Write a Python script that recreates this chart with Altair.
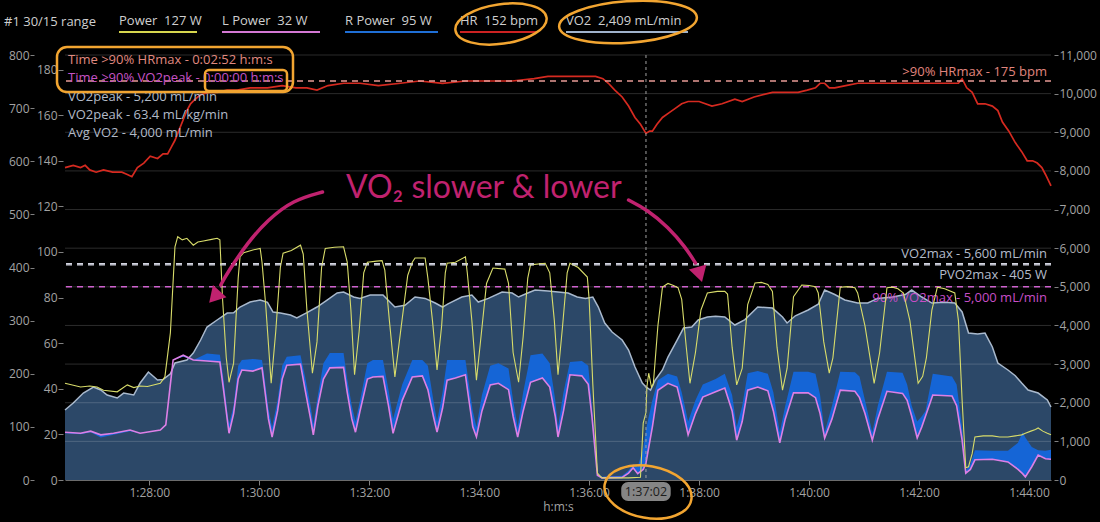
import altair as alt
import pandas as pd

FONT = "Open Sans"
T0, T1 = 5188, 6264          # ride time shown, seconds (1:26:28 - 1:44:24)
CURSOR_T = 5822               # 1:37:02

# ---------------- series ----------------
HR_T = [5188, 5197, 5205, 5210, 5215, 5222, 5230, 5240, 5250, 5256,
        5261, 5267, 5274, 5281, 5289, 5295, 5300, 5304, 5308, 5312,
        5317, 5321, 5325, 5330, 5336, 5345, 5354, 5365, 5376, 5390,
        5409, 5425, 5440, 5452, 5463, 5475, 5492, 5510, 5530, 5554,
        5575, 5600, 5625, 5650, 5676, 5700, 5715, 5740, 5767, 5775,
        5781, 5788, 5796, 5803, 5810, 5816, 5822, 5826, 5829, 5834,
        5840, 5847, 5854, 5861, 5868, 5880, 5894, 5905, 5919, 5927,
        5940, 5960, 5975, 5988, 5998, 6007, 6012, 6017, 6022, 6028,
        6040, 6053, 6080, 6110, 6140, 6163, 6167, 6172, 6178, 6184,
        6192, 6200, 6206, 6211, 6218, 6225, 6232, 6238, 6244, 6249,
        6254, 6258, 6264]
HR_BPM = [137, 138, 137, 138, 136, 135, 136, 135, 135, 134,
          133, 137, 139, 142, 141, 143, 143, 146, 149, 153,
          158, 162, 165, 167, 169, 170, 170, 171, 171, 172,
          172, 173, 172, 172, 171, 173, 174, 174, 173, 174,
          175, 174, 175, 175, 175, 176, 177, 177, 177, 176,
          174, 171, 168, 164, 159, 156, 152, 153, 153, 156,
          159, 161, 163, 165, 166, 166, 164, 165, 167, 166,
          168, 170, 170, 170, 171, 172, 174, 174, 172, 172,
          173, 174, 174, 174, 174, 174, 176, 172, 170, 165,
          165, 164, 162, 157, 153, 148, 144, 140, 140, 139,
          137, 134, 129]

PW_T = [5188, 5205, 5215, 5223, 5230, 5245, 5256, 5263, 5270, 5278,
        5292, 5297, 5303, 5308, 5311, 5316, 5321, 5328, 5333, 5339,
        5348, 5354, 5357, 5360, 5364, 5367, 5372, 5377, 5379, 5383,
        5393, 5401, 5403, 5407, 5413, 5418, 5423, 5426, 5435, 5445,
        5448, 5452, 5458, 5463, 5468, 5472, 5482, 5492, 5496, 5500,
        5504, 5509, 5514, 5518, 5528, 5534, 5537, 5542, 5548, 5555,
        5562, 5567, 5570, 5581, 5584, 5589, 5594, 5599, 5603, 5605,
        5614, 5625, 5627, 5632, 5637, 5642, 5648, 5655, 5668, 5672,
        5677, 5683, 5688, 5693, 5696, 5712, 5717, 5722, 5726, 5731,
        5736, 5739, 5748, 5758, 5760, 5764, 5769, 5774, 5803, 5816,
        5819, 5822, 5823, 5825, 5828, 5830, 5835, 5840, 5846, 5852,
        5857, 5861, 5866, 5870, 5876, 5882, 5889, 5900, 5908, 5911,
        5916, 5921, 5927, 5933, 5941, 5948, 5955, 5960, 5965, 5971,
        5976, 5983, 5992, 6000, 6007, 6010, 6016, 6022, 6026, 6034,
        6042, 6050, 6053, 6061, 6071, 6077, 6085, 6091, 6097, 6103,
        6110, 6119, 6124, 6128, 6134, 6140, 6148, 6159, 6163, 6167,
        6171, 6174, 6178, 6181, 6190, 6200, 6208, 6217, 6225, 6232,
        6236, 6242, 6247, 6250, 6255, 6260, 6264]
PW_W = [182, 175, 177, 175, 169, 166, 179, 174, 177, 176,
        182, 194, 277, 439, 458, 452, 455, 442, 448, 450,
        453, 455, 452, 339, 230, 184, 220, 380, 420, 428,
        433, 436, 410, 330, 182, 280, 400, 427, 432, 442,
        425, 320, 201, 260, 400, 436, 438, 439, 410, 320,
        198, 280, 390, 410, 412, 413, 395, 300, 194, 290,
        385, 410, 418, 418, 380, 300, 207, 290, 390, 408,
        410, 420, 390, 300, 188, 270, 370, 399, 397, 370,
        240, 184, 270, 380, 405, 408, 390, 300, 198, 290,
        390, 408, 400, 382, 340, 180, 13, 4, 4, 5,
        107, 127, 175, 201, 175, 180, 290, 363, 370, 366,
        362, 340, 250, 182, 240, 320, 352, 355, 355, 350,
        250, 179, 210, 330, 371, 372, 368, 355, 250, 169,
        210, 345, 367, 366, 364, 352, 260, 201, 230, 363,
        364, 362, 352, 290, 182, 240, 362, 363, 360, 352,
        300, 182, 195, 230, 320, 363, 360, 352, 300, 150,
        23, 25, 50, 81, 83, 83, 81, 81, 83, 85,
        88, 92, 95, 98, 92, 88, 85]

VO2_T = [5188, 5197, 5208, 5219, 5227, 5234, 5245, 5252, 5263, 5270,
         5279, 5289, 5295, 5303, 5308, 5321, 5328, 5336, 5343, 5354,
         5365, 5372, 5379, 5390, 5401, 5409, 5415, 5423, 5434, 5441,
         5452, 5463, 5474, 5485, 5492, 5503, 5510, 5521, 5535, 5548,
         5559, 5570, 5581, 5592, 5600, 5606, 5621, 5632, 5639, 5650,
         5665, 5676, 5683, 5693, 5701, 5715, 5737, 5747, 5756, 5764,
         5770, 5777, 5785, 5796, 5803, 5810, 5818, 5822, 5827, 5832,
         5840, 5846, 5856, 5863, 5872, 5879, 5889, 5898, 5908, 5919,
         5930, 5944, 5960, 5971, 5976, 5985, 5999, 6010, 6017, 6028,
         6039, 6053, 6064, 6075, 6091, 6105, 6112, 6123, 6134, 6148,
         6159, 6167, 6174, 6184, 6192, 6200, 6206, 6217, 6225, 6232,
         6239, 6250, 6260, 6264]
VO2_ML = [1812, 1993, 2251, 2407, 2330, 2200, 2122, 2250, 2200, 2510,
          2795, 2588, 2600, 2750, 3028, 3106, 3287, 3623, 3959, 4141,
          4322, 4330, 4477, 4607, 4658, 4600, 4348, 4320, 4270, 4193,
          4330, 4477, 4658, 4840, 4865, 4736, 4700, 4788, 4788, 4477,
          4520, 4736, 4700, 4580, 4477, 4560, 4736, 4788, 4607, 4700,
          4865, 4840, 4736, 4840, 4917, 4890, 4840, 4736, 4700, 4736,
          4477, 4063, 3830, 3623, 3364, 2924, 2510, 2409, 2329, 2588,
          2847, 3183, 3623, 3933, 3960, 4141, 4218, 4240, 4218, 4011,
          4150, 4477, 4450, 4218, 4063, 4250, 4400, 4550, 4917, 4800,
          4658, 4580, 4580, 4700, 4736, 4800, 4917, 4736, 4580, 4600,
          4580, 4350, 3804, 3780, 3804, 3442, 3028, 2847, 2700, 2510,
          2329, 2251, 2070, 1889]

LR_T = [5188, 5205, 5216, 5227, 5241, 5259, 5270, 5292, 5298, 5302,
        5306, 5317, 5328, 5343, 5357, 5361, 5365, 5367, 5372, 5377,
        5381, 5393, 5403, 5406, 5410, 5414, 5420, 5425, 5430, 5445,
        5450, 5456, 5459, 5464, 5470, 5477, 5492, 5496, 5501, 5505,
        5510, 5518, 5524, 5535, 5541, 5546, 5556, 5567, 5578, 5584,
        5590, 5594, 5600, 5605, 5614, 5625, 5628, 5633, 5637, 5643,
        5652, 5661, 5672, 5677, 5682, 5688, 5696, 5709, 5717, 5723,
        5726, 5732, 5739, 5752, 5759, 5763, 5769, 5774, 5796, 5803,
        5808, 5813, 5819, 5822, 5829, 5835, 5846, 5856, 5861, 5868,
        5876, 5884, 5898, 5908, 5916, 5921, 5927, 5933, 5944, 5955,
        5961, 5968, 5974, 5983, 5999, 6007, 6012, 6017, 6025, 6034,
        6050, 6055, 6061, 6069, 6075, 6085, 6102, 6107, 6112, 6118,
        6123, 6127, 6135, 6156, 6161, 6167, 6171, 6176, 6181, 6200,
        6217, 6228, 6233, 6236, 6243, 6250, 6258, 6264]
L_W = [90, 88, 92, 85, 88, 94, 88, 94, 104, 165,
       226, 235, 226, 224, 222, 170, 115, 88, 125, 190,
       207, 205, 211, 170, 115, 81, 130, 190, 216, 218,
       170, 115, 85, 140, 190, 211, 212, 165, 115, 90,
       130, 190, 194, 195, 140, 88, 150, 194, 196, 170,
       120, 90, 135, 188, 192, 198, 160, 100, 81, 130,
       179, 182, 170, 120, 81, 130, 184, 192, 175, 120,
       81, 130, 198, 196, 180, 120, 9, 4, 5, 13,
       23, 12, 20, 32, 100, 169, 182, 175, 140, 85,
       125, 156, 166, 173, 130, 75, 110, 169, 175, 168,
       130, 70, 115, 164, 164, 155, 125, 79, 115, 169,
       167, 155, 125, 75, 115, 167, 163, 150, 120, 79,
       100, 120, 160, 158, 140, 75, 13, 20, 38, 39,
       34, 20, 12, 6, 25, 47, 40, 39]
R_W = [88, 86, 90, 80, 85, 92, 88, 94, 104, 165,
       226, 232, 226, 238, 236, 190, 130, 105, 140, 215,
       226, 228, 226, 190, 135, 100, 150, 215, 232, 235,
       195, 140, 105, 160, 220, 239, 239, 190, 140, 110,
       150, 220, 226, 226, 170, 115, 180, 226, 226, 215,
       150, 110, 165, 226, 226, 226, 190, 130, 100, 160,
       215, 220, 210, 150, 100, 165, 235, 238, 220, 150,
       100, 165, 222, 224, 215, 140, 12, 6, 8, 18,
       30, 25, 60, 95, 150, 188, 200, 195, 165, 110,
       150, 180, 190, 200, 160, 100, 140, 201, 205, 200,
       165, 90, 140, 204, 204, 200, 160, 90, 140, 204,
       203, 195, 150, 90, 140, 204, 202, 180, 140, 110,
       120, 130, 200, 195, 180, 100, 18, 30, 56, 55,
       55, 70, 90, 80, 62, 56, 55, 57]

# reference levels
HR_MAX90 = 175
VO2_MAX = 5600
VO2_MAX90 = 5000
PVO2_MAX = 405

# readouts at the cursor (non-breaking spaces keep the double gap)
NB = "\u00a0"
LEGEND_LABELS = [f"Power{NB}{NB}127 W", f"L Power{NB}{NB}32 W", f"R Power{NB}{NB}95 W",
                 f"HR{NB}{NB}152 bpm", f"VO2{NB}{NB}2,409 mL/min"]
LEGEND_COLORS = ["#d6d64e", "#d478d4", "#1f6fd6", "#cc2222", "#9fb2cb"]

SUMMARY_LINES = ["Time >90% HRmax - 0:02:52 h:m:s",
                 "Time \u226590% VO2peak - 0:00:00 h:m:s",
                 "VO2peak - 5,200 mL/min",
                 "VO2peak - 63.4 mL/kg/min",
                 "Avg VO2 - 4,000 mL/min"]
SUMMARY_COLORS = ["#e08a80", "#c653c6", "#b2bac8", "#b2bac8", "#b2bac8"]

X_TICKS = list(range(5280, 6241, 120))
VO2_TICKS = list(range(0, 11001, 1000))
PW_TICKS = list(range(0, 801, 100))
HR_TICKS = list(range(0, 181, 20))

# hand-drawn note, placed in (time, mL/min) units
NOTE_TEXT = "VO\u2082 slower & lower"
ARROW_L_T = [5469, 5437, 5409, 5387, 5365, 5358]
ARROW_L_V = [7453, 7246, 6729, 6134, 5357, 5047]
ARROW_R_T = [5803, 5824, 5846, 5865, 5876]
ARROW_R_V = [7246, 6988, 6548, 6030, 5616]

# ---------------- styling ----------------
BG = "#000000"
AX = "#a3a3a3"
ORANGE = "#f2a531"
NOTE = "#c0226f"
PAD_L, PAD_T = 65, 55

hr_df = pd.DataFrame({"t": HR_T, "hr": HR_BPM})
pw_df = pd.DataFrame({"t": PW_T, "w": PW_W})
vo2_df = pd.DataFrame({"t": VO2_T, "vo2": VO2_ML})
lr_df = pd.DataFrame({"t": LR_T, "l": L_W, "r": R_W})
one = pd.DataFrame({"k": [0]})

xscale = alt.Scale(domain=[T0, T1], nice=False, zero=False)
vo2_scale = alt.Scale(domain=[0, 11000], nice=False)
pw_scale = alt.Scale(domain=[0, 800], nice=False)
hr_scale = alt.Scale(domain=[0, 186.4], nice=False)

hms = ("floor(datum.value/3600) + ':' + format(floor(datum.value/60) % 60, '02d')"
       " + ':' + format(datum.value % 60, '02d')")
# every layer carries the same time axis so the shared axis merges cleanly
x_axis = alt.Axis(values=X_TICKS, labelExpr=hms, title="h:m:s", grid=False,
                  labelColor=AX, labelFont=FONT, labelFontSize=12, labelPadding=2,
                  tickColor="#808080", tickSize=5, domainColor="#6c6c6c",
                  titleColor=AX, titleFont=FONT, titleFontSize=12,
                  titleFontWeight="normal", titlePadding=3)


def y_axis(orient, values, offset, tick, thousands=False):
    kw = dict(orient=orient, values=values, grid=False, domain=False, tickSize=tick,
              offset=offset, labelPadding=1, tickColor="#808080", labelColor=AX,
              labelFont=FONT, labelFontSize=12, title=None)
    if thousands:
        kw["labelExpr"] = "format(datum.value, ',')"
    return alt.Axis(**kw)


def X(field="t"):
    return alt.X(f"{field}:Q", scale=xscale, axis=x_axis)


def ellipse_path(r):
    k = 0.5523
    return (f"M -1 0 C -1 {-k*r:.3f} {-k:.3f} {-r:.3f} 0 {-r:.3f} "
            f"C {k:.3f} {-r:.3f} 1 {-k*r:.3f} 1 0 "
            f"C 1 {k*r:.3f} {k:.3f} {r:.3f} 0 {r:.3f} "
            f"C {-k:.3f} {r:.3f} -1 {k*r:.3f} -1 0 Z")


def px(x, y):
    """pixel position on the page, expressed relative to the plot origin"""
    return dict(x=alt.value(x - PAD_L), y=alt.value(y - PAD_T))


layers = []

# ---------------- VO2 (right axis) ----------------
layers.append(alt.Chart(vo2_df).mark_area(color="#2c4868", opacity=1).encode(
    x=X(), y=alt.Y("vo2:Q", scale=vo2_scale, axis=y_axis("right", VO2_TICKS, 3, 4, True))))
layers.append(alt.Chart(vo2_df).mark_line(color="#a9b9cd", strokeWidth=1.5).encode(
    x=X(), y=alt.Y("vo2:Q", scale=vo2_scale, axis=None)))
layers.append(alt.Chart(pd.DataFrame({"g": VO2_TICKS[1:]})).mark_rule(
    color="#ffffff", opacity=0.17, strokeWidth=1
).encode(y=alt.Y("g:Q", scale=vo2_scale, axis=None)))

vo2_refs = pd.DataFrame({"v": [VO2_MAX, VO2_MAX90], "c": ["#d2d4e0", "#cf62cf"]})
layers.append(alt.Chart(vo2_refs).mark_rule(strokeDash=[6, 5], strokeWidth=1.5).encode(
    y=alt.Y("v:Q", scale=vo2_scale, axis=None), color=alt.Color("c:N", scale=None)))
layers.append(alt.Chart(pd.DataFrame({"t": [T1], "v": [VO2_MAX]})).mark_text(
    align="right", baseline="middle", dx=-4, dy=-10, font=FONT, fontSize=13, color="#b4bccb"
).encode(x=X(), y=alt.Y("v:Q", scale=vo2_scale, axis=None),
         text=alt.value("VO2max - 5,600 mL/min")))
layers.append(alt.Chart(pd.DataFrame({"t": [T1], "v": [VO2_MAX90]})).mark_text(
    align="right", baseline="middle", dx=-4, dy=11, font=FONT, fontSize=13, color="#c64ec6"
).encode(x=X(), y=alt.Y("v:Q", scale=vo2_scale, axis=None),
         text=alt.value("90% VO2max - 5,000 mL/min")))

# ---------------- power (outer left axis) ----------------
layers.append(alt.Chart(lr_df).mark_area(color="#1565d6", opacity=1).encode(
    x=X(), y=alt.Y("r:Q", scale=pw_scale, axis=None), y2="l:Q"))
layers.append(alt.Chart(lr_df).mark_line(color="#dd7fe6", strokeWidth=1.6).encode(
    x=X(), y=alt.Y("l:Q", scale=pw_scale, axis=None)))
layers.append(alt.Chart(pw_df).mark_line(color="#d8dc6a", strokeWidth=1.1).encode(
    x=X(), y=alt.Y("w:Q", scale=pw_scale, axis=y_axis("left", PW_TICKS, 31, 4))))
layers.append(alt.Chart(pd.DataFrame({"w": [PVO2_MAX]})).mark_rule(
    color="#d2d4e0", strokeDash=[6, 5], strokeWidth=1.2
).encode(y=alt.Y("w:Q", scale=pw_scale, axis=None)))
layers.append(alt.Chart(pd.DataFrame({"t": [T1], "w": [PVO2_MAX]})).mark_text(
    align="right", baseline="middle", dx=-4, dy=10, font=FONT, fontSize=13, color="#b4bccb"
).encode(x=X(), y=alt.Y("w:Q", scale=pw_scale, axis=None),
         text=alt.value("PVO2max - 405 W")))

# ---------------- heart rate (inner left axis) ----------------
layers.append(alt.Chart(hr_df).mark_line(color="#d62a20", strokeWidth=1.7).encode(
    x=X(), y=alt.Y("hr:Q", scale=hr_scale, axis=y_axis("left", HR_TICKS, 2, 5))))
layers.append(alt.Chart(pd.DataFrame({"h": [HR_MAX90]})).mark_rule(
    color="#e79b95", strokeDash=[6, 5], strokeWidth=1.5
).encode(y=alt.Y("h:Q", scale=hr_scale, axis=None)))
layers.append(alt.Chart(pd.DataFrame({"t": [T1], "h": [HR_MAX90]})).mark_text(
    align="right", baseline="middle", dx=-4, dy=-9, font=FONT, fontSize=13, color="#e0857e"
).encode(x=X(), y=alt.Y("h:Q", scale=hr_scale, axis=None),
         text=alt.value(">90% HRmax - 175 bpm")))

# ---------------- cursor and hand-drawn note ----------------
layers.append(alt.Chart(pd.DataFrame({"t": [CURSOR_T]})).mark_rule(
    color="#a0a0a0", strokeDash=[3, 3], strokeWidth=1).encode(x=X()))

for ts, vs in [(ARROW_L_T, ARROW_L_V), (ARROW_R_T, ARROW_R_V)]:
    layers.append(alt.Chart(pd.DataFrame({"t": ts, "v": vs, "o": range(len(ts))})).mark_line(
        color=NOTE, strokeWidth=3.5, interpolate="basis", strokeCap="round"
    ).encode(x=X(), y=alt.Y("v:Q", scale=vo2_scale, axis=None), order="o:Q"))
layers.append(alt.Chart(pd.DataFrame({"t": [5353, 5880], "v": [4788, 5383], "a": [222, 164]})
                        ).mark_point(shape="triangle", filled=True, color=NOTE, opacity=1,
                                     size=330).encode(
    x=X(), y=alt.Y("v:Q", scale=vo2_scale, axis=None), angle=alt.Angle("a:Q", scale=None)))
layers.append(alt.Chart(pd.DataFrame({"t": [5645], "v": [7557]})).mark_text(
    font="Lato", fontSize=32, color=NOTE, baseline="middle", align="center"
).encode(x=X(), y=alt.Y("v:Q", scale=vo2_scale, axis=None), text=alt.value(NOTE_TEXT)))

# cursor time badge on the time axis
layers.append(alt.Chart(pd.DataFrame({"a": [CURSOR_T - 27], "b": [CURSOR_T + 27]})).mark_rect(
    color="#858585", cornerRadius=7).encode(
    x=X("a"), x2="b:Q", y=alt.value(482 - PAD_T), y2=alt.value(501 - PAD_T)))
layers.append(alt.Chart(pd.DataFrame({"t": [CURSOR_T]})).mark_text(
    font=FONT, fontSize=12.5, color="#1c1c1c", baseline="middle").encode(
    x=X(), y=alt.value(491.5 - PAD_T), text=alt.value("1:37:02")))

# ---------------- header legend & summary ----------------
layers.append(alt.Chart(one).mark_text(font=FONT, fontSize=13, color="#cfcfcf", align="left",
                                       baseline="middle").encode(
    text=alt.value("#1 30/15 range"), **px(4, 22)))
leg_x0 = [119, 222, 345, 460, 566]
leg_x1 = [197, 320, 438, 537, 688]
for lab, col, a, b in zip(LEGEND_LABELS, LEGEND_COLORS, leg_x0, leg_x1):
    layers.append(alt.Chart(one).mark_text(
        font=FONT, fontSize=13, color="#cfcfcf", align="left", baseline="middle"
    ).encode(text=alt.value(lab), **px(a, 21)))
    layers.append(alt.Chart(one).mark_rule(color=col, strokeWidth=2).encode(
        x=alt.value(a - PAD_L), x2=alt.value(b - PAD_L), y=alt.value(32 - PAD_T)))
for line, col, yy in zip(SUMMARY_LINES, SUMMARY_COLORS, [60, 78, 97, 115, 133]):
    layers.append(alt.Chart(one).mark_text(
        font=FONT, fontSize=13, color=col, align="left", baseline="middle"
    ).encode(text=alt.value(line), **px(68, yy)))

# orange markers
for x0, x1, y0, y1, rad in [(57, 293, 47, 92, 10), (205, 287, 70, 91, 4)]:
    layers.append(alt.Chart(one).mark_rect(
        fillOpacity=0, stroke=ORANGE, strokeWidth=2.5, cornerRadius=rad).encode(
        x=alt.value(x0 - PAD_L), x2=alt.value(x1 - PAD_L),
        y=alt.value(y0 - PAD_T), y2=alt.value(y1 - PAD_T)))
for cx, cy, w, r, ang in [(501, 24, 92, 0.43, 352), (628, 22, 138, 0.30, 356),
                          (648, 492, 88, 0.59, 10)]:
    layers.append(alt.Chart(one).mark_point(
        shape=ellipse_path(r), size=w * w, filled=False, stroke=ORANGE,
        strokeWidth=2.5, opacity=1, angle=ang).encode(**px(cx, cy)))

chart = alt.layer(*layers).resolve_scale(y="independent").properties(
    width=986, height=425, background=BG,
    padding={"left": PAD_L, "top": PAD_T, "right": 49, "bottom": 42},
    autosize=alt.AutoSizeParams(type="none"),
).configure_view(stroke=None)

chart.save("out.html", embed_options={"renderer": "svg", "actions": False})
